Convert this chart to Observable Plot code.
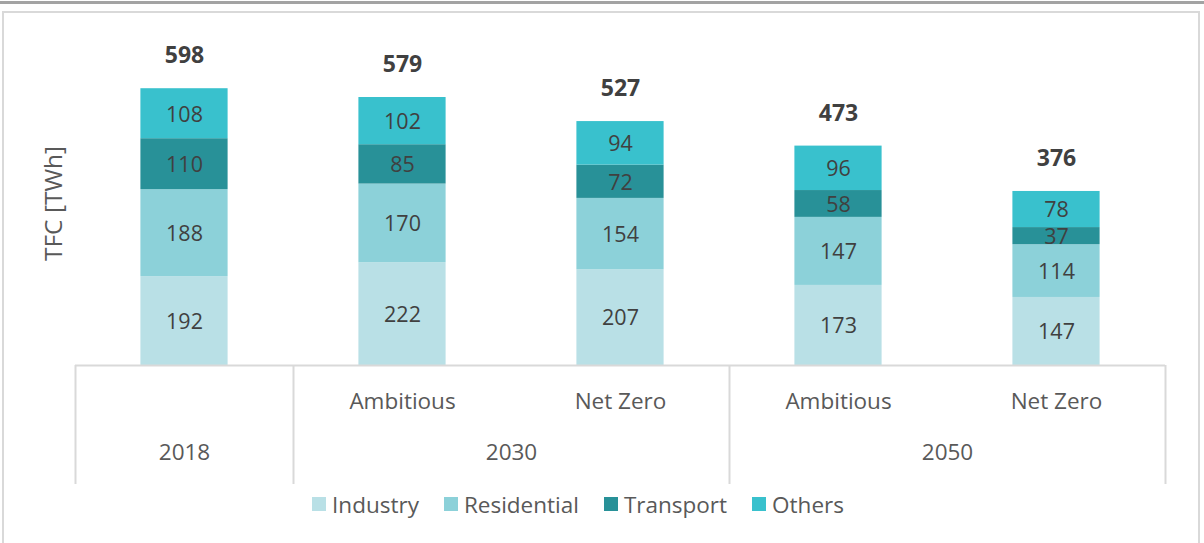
<!DOCTYPE html>
<html>
<head>
<meta charset="utf-8">
<script src="https://cdn.jsdelivr.net/npm/d3@7"></script>
<script src="https://cdn.jsdelivr.net/npm/@observablehq/plot@0.6"></script>
<style>
  html, body { margin: 0; padding: 0; background: #fff; }
  body { width: 1204px; height: 543px; position: relative; overflow: hidden; font-family: "Open Sans", "Noto Sans", sans-serif; }
  #topline { position: absolute; left: 0; top: 1px; width: 1204px; height: 3px; background: #a3a3a3; }
  #frame { position: absolute; left: 2px; top: 11px; width: 1194px; height: 540px; border: 2px solid #d9d9d9; box-sizing: content-box; }
  #chart { position: absolute; left: 0; top: 0; }
  #legend { position: absolute; left: 0; top: 488px; width: 1156px; height: 32px; display: flex; justify-content: center; align-items: center; gap: 25px; font-size: 22.5px; color: #595959; }
  #legend .item { display: flex; align-items: center; }
  #legend .sw { width: 14px; height: 14px; margin-right: 6px; }
</style>
</head>
<body>
<div id="topline"></div>
<div id="frame"></div>
<div id="chart"></div>
<div id="legend"></div>
<script>
const years = ["2018", "2030", "2030", "2050", "2050"];
const scenarios = ["", "Ambitious", "Net Zero", "Ambitious", "Net Zero"];
const sectors = ["Industry", "Residential", "Transport", "Others"];
const industry = [192, 222, 207, 173, 147];
const residential = [188, 170, 154, 147, 114];
const transport = [110, 85, 72, 58, 37];
const others = [108, 102, 94, 96, 78];
const totals = [598, 579, 527, 473, 376];
const colors = ["#b9e0e6", "#8cd1d9", "#289198", "#39c1cd"];

const series = [industry, residential, transport, others];
const rows = [];
years.forEach((yr, i) => {
  series.forEach((vals, s) => rows.push({i, sector: sectors[s], value: vals[i]}));
});
const totalRows = totals.map((t, i) => ({i, total: t}));
const scenarioRows = scenarios.map((s, i) => ({i, label: s}));
const groups = d3.groups(years.map((y, i) => ({y, i})), d => d.y)
  .map(([y, arr]) => ({year: y, mid: d3.mean(arr, d => d.i), lo: d3.min(arr, d => d.i) - 0.5, hi: d3.max(arr, d => d.i) + 0.5}));
const bounds = Array.from(new Set(groups.flatMap(g => [g.lo, g.hi])));
const halfWidth = 0.2;

const plot = Plot.plot({
  width: 1204,
  height: 490,
  marginLeft: 75,
  marginRight: 39,
  marginTop: 41,
  marginBottom: 125,
  style: {fontFamily: "'Open Sans', 'Noto Sans', sans-serif", background: "transparent"},
  x: {type: "linear", domain: [-0.5, years.length - 0.5], axis: null},
  y: {domain: [0, 700], axis: null},
  color: {domain: sectors, range: colors},
  marks: [
    Plot.rectY(rows, Plot.stackY({x1: d => d.i - halfWidth, x2: d => d.i + halfWidth, y: "value", fill: "sector", z: "sector"})),
    Plot.text(rows, Plot.stackY({x: "i", y: "value", z: "sector", text: "value", fontSize: 21.5, dy: 1, fill: "#404040"})),
    Plot.text(totalRows, {x: "i", y: "total", text: "total", dy: -33, fontSize: 23, fontWeight: "bold", fill: "#404040"}),
    Plot.ruleY([0], {stroke: "#d9d9d9", strokeWidth: 2}),
    Plot.ruleX(bounds, {x: d => d, stroke: "#d9d9d9", strokeWidth: 2, insetTop: 324, insetBottom: -119}),
    Plot.text(scenarioRows, {x: "i", text: "label", frameAnchor: "bottom", lineAnchor: "middle", dy: 36, fontSize: 22.5, fill: "#595959"}),
    Plot.text(groups, {x: "mid", text: "year", frameAnchor: "bottom", lineAnchor: "middle", dy: 87, fontSize: 22.5, fill: "#595959"}),
    Plot.text(["TFC [TWh]"], {text: d => d, frameAnchor: "left", textAnchor: "middle", lineAnchor: "middle", dx: -21, rotate: -90, fontSize: 24.5, fill: "#595959"})
  ]
});
document.getElementById("chart").appendChild(plot);

const legend = document.getElementById("legend");
sectors.forEach((s, k) => {
  const it = document.createElement("div");
  it.className = "item";
  it.innerHTML = `<span class="sw" style="background:${colors[k]}"></span><span>${s}</span>`;
  legend.appendChild(it);
});
</script>
</body>
</html>
